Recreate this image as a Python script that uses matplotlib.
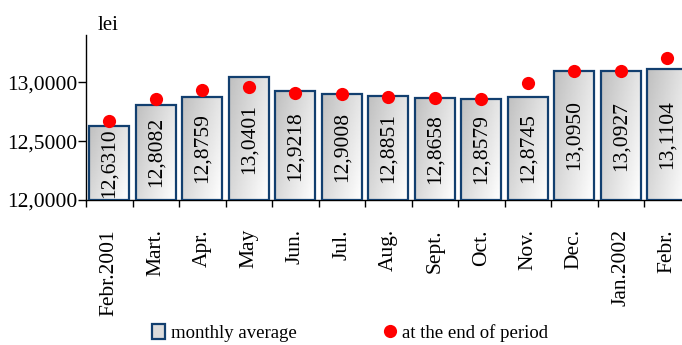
import numpy as np
import matplotlib
matplotlib.use("Agg")
import matplotlib.pyplot as plt
from matplotlib.lines import Line2D
from matplotlib.patches import Patch

plt.rcParams['font.family'] = ['Liberation Serif', 'DejaVu Serif']

months = ["Febr.2001", "Mart.", "Apr.", "May", "Jun.", "Jul.", "Aug.", "Sept.",
          "Oct.", "Nov.", "Dec.", "Jan.2002", "Febr."]
monthly_average = [12.6310, 12.8082, 12.8759, 13.0401, 12.9218, 12.9008, 12.8851,
                   12.8658, 12.8579, 12.8745, 13.0950, 13.0927, 13.1104]
end_of_period = [12.667, 12.861, 12.934, 12.961, 12.910, 12.901, 12.873,
                 12.867, 12.861, 12.995, 13.094, 13.097, 13.201]
y_ticks = [12.0, 12.5, 13.0]
base = 12.0

W, H = 682, 345
fig = plt.figure(figsize=(W / 100, H / 100), dpi=100)
ax = fig.add_axes([86 / W, 1 - 200 / H, (690.5 - 86) / W, (200 - 35) / H])

x = np.arange(len(months))
bars = ax.bar(x, np.array(monthly_average) - base, bottom=base, width=0.86,
              facecolor='none', edgecolor='#123f6f', linewidth=1.6, zorder=3)

# diagonal grey-to-white gradient inside each bar
gy, gx = np.mgrid[0:1:64j, 0:1:32j]
grad = 0.75 + 0.25 * np.clip(0.6 * gx + 0.4 * gy, 0, 1)
for b in bars:
    x0, y0 = b.get_x(), b.get_y()
    im = ax.imshow(grad, cmap='gray', vmin=0, vmax=1, origin='upper',
                   extent=[x0, x0 + b.get_width(), y0, y0 + b.get_height()],
                   aspect='auto', zorder=2, interpolation='bilinear')
    im.set_clip_path(b)

for xi, v in zip(x, monthly_average):
    ax.text(xi, (base + v) / 2, f"{v:.4f}".replace('.', ','), rotation=90,
            ha='center', va='center', fontsize=15.5, zorder=4)

ax.plot(x, end_of_period, linestyle='none', marker='o', markersize=9.5,
        color='#ff0000', markeredgewidth=0, zorder=5)

ax.set_xlim(-0.5, len(months) - 0.5)
ax.set_ylim(12.0, 13.4)
ax.set_yticks(y_ticks)
ax.set_yticklabels([f"{t:.4f}".replace('.', ',') for t in y_ticks], fontsize=15.5)
ax.set_xticks(x)
ax.set_xticklabels(months, rotation=90, fontsize=15.5)
ax.set_xticks(np.arange(len(months) + 1) - 0.5, minor=True)
ax.tick_params(axis='x', which='major', length=0, pad=21)
ax.tick_params(axis='x', which='minor', length=5, width=1, direction='out')
ax.tick_params(axis='y', length=6, width=1, pad=0)
for s in ('top', 'right'):
    ax.spines[s].set_visible(False)
for s in ('left', 'bottom'):
    ax.spines[s].set_linewidth(1)

fig.text(98 / W, 1 - 26 / H, "lei", fontsize=15, va='center', ha='left')

handles = [Patch(facecolor='#dcdcdc', edgecolor='#123f6f', linewidth=1.6),
           Line2D([], [], linestyle='none', marker='o', markersize=9.5,
                  color='#ff0000', markeredgewidth=0)]
fig.legend(handles, ["monthly average", "at the end of period"], loc='center',
           bbox_to_anchor=(350 / W, 1 - 333 / H), ncol=2, frameon=False,
           fontsize=13.5, handlelength=0.7, handleheight=0.9, handletextpad=0.3,
           columnspacing=4.6, borderpad=0)

fig.savefig("out.png", dpi=100)
